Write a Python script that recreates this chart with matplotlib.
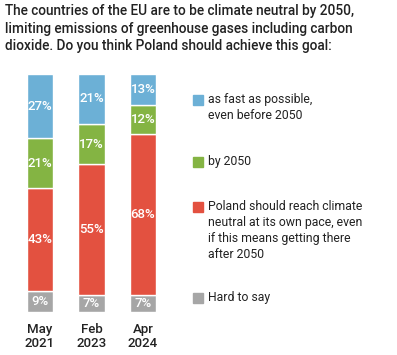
import matplotlib
matplotlib.use("Agg")
import matplotlib.pyplot as plt
import numpy as np

periods = ["May\n2021", "Feb\n2023", "Apr\n2024"]
fast = [27, 21, 13]
by2050 = [21, 17, 12]
own_pace = [43, 55, 68]
hard = [9, 7, 7]

series = [hard, own_pace, by2050, fast]
colors = ["#a6a6a6", "#e35140", "#84b443", "#6cb0d6"]
legend_labels = ["as fast as possible,\neven before 2050", "by 2050",
                 "Poland should reach climate\nneutral at its own pace, even\nif this means getting there\nafter 2050",
                 "Hard to say"]
legend_colors = ["#6cb0d6", "#84b443", "#e35140", "#a6a6a6"]

title = ("The countries of the EU are to be climate neutral by 2050,\n"
         "limiting emissions of greenhouse gases including carbon\n"
         "dioxide. Do you think Poland should achieve this goal:")

W, H = 397, 355
fig = plt.figure(figsize=(W/100, H/100), dpi=100)
plt.rcParams['font.family'] = ['Roboto', 'DejaVu Sans']

ax_left = 40 - 25.75
ax_w = 154.5
ax_bot = 312
ax_top = 74
ax = fig.add_axes([ax_left/W, (H-ax_bot)/H, ax_w/W, (ax_bot-ax_top)/H])
x = np.arange(len(periods))
bottom = np.zeros(len(periods))
for vals, c in zip(series, colors):
    vals = np.array(vals)
    ax.bar(x, vals, 0.505, bottom=bottom, color=c, edgecolor="white", linewidth=1)
    for xi, b, v in zip(x, bottom, vals):
        ax.text(xi, b + v/2, f"{v}%", ha="center", va="center", color="white",
                fontsize=9.5, fontweight="medium")
    bottom += vals
ax.set_xlim(-0.5, 2.5)
ax.set_ylim(0, 100)
ax.set_xticks(x)
ax.set_xticklabels(periods, fontsize=9.5, fontweight="medium", color="#222222", linespacing=1.1)
ax.tick_params(axis="x", length=0, pad=8)
ax.set_yticks([])
for s in ax.spines.values():
    s.set_visible(False)

fig.text(5/W, 1 - 4/H, title, ha="left", va="top", fontsize=9.8, fontweight="medium",
         color="#222222", linespacing=1.32)

leg_y = [100, 162, 207, 298]
for lab, c, y in zip(legend_labels, legend_colors, leg_y):
    fig.patches.append(plt.Rectangle((193/W, (H - y - 5)/H), 10/W, 10/H,
                                     transform=fig.transFigure, color=c))
    fig.text(208/W, (H - y + 7)/H, lab, ha="left", va="top", fontsize=8.8,
             color="#222222", linespacing=1.3)

fig.savefig("out.png", dpi=100, facecolor="white")
